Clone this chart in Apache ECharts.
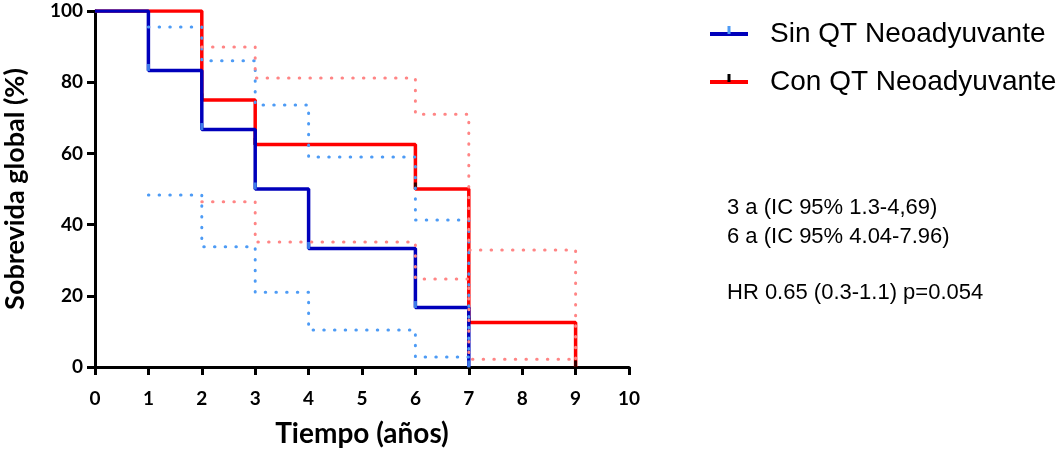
<!DOCTYPE html>
<html>
<head>
<meta charset="utf-8">
<script src="https://cdn.jsdelivr.net/npm/echarts@6/dist/echarts.min.js"></script>
<style>
html,body{margin:0;padding:0;background:#fff;}
#chart{width:1060px;height:453px;}
</style>
</head>
<body>
<div id="chart"></div>
<script>
// ---- data (years, % survival) ----
const seriesNames = ['Sin QT Neoadyuvante', 'Con QT Neoadyuvante'];
const xTicks = [0,1,2,3,4,5,6,7,8,9,10];
const yTicks = [0,20,40,60,80,100];

const sinQT = [[0,100],[1,83.3],[2,66.7],[3,50],[4,33.3],[6,16.7],[7,0]];
const sinQTUpper = [[1,95.5],[2,86],[3,73.6],[4,59],[6,41.3],[7,2.8]];
const sinQTLower = [[1,48.3],[2,33.8],[3,21],[4,10.4],[6,2.8],[7,2.8]];
const sinQTMarks = [[1,83.3],[2,66.7],[3,50],[4,33.3],[6,16.7],[7,0]];

const conQT = [[0,100],[2,75],[3,62.5],[6,50],[7,12.5],[9,0]];
const conQTUpper = [[2,89.9],[3,81.2],[6,71],[7,32.9],[9,2.2]];
const conQTLower = [[2,46.4],[3,35.1],[6,24.7],[7,2.2],[9,2.2]];
const conQTMarks = [[2,75],[3,62.5],[6,50],[7,12.5],[9,0]];

const annotations = ['3 a (IC 95% 1.3-4,69)', '6 a (IC 95% 4.04-7.96)', '', 'HR 0.65 (0.3-1.1) p=0.054'];

// ---- styles ----
const BLUE = '#0000bb', RED = '#ff0000', LBLUE = '#4d9bf5', LRED = '#ff8585';
const SANS = "'Liberation Sans', Arial, sans-serif";
const dotted = (c) => ({color: c, width: 3, type: [0.5, 10.2], cap: 'round'});
const tickFont = {fontFamily: 'Lato', fontWeight: 'bold', fontSize: 19, color: '#000'};

const chart = echarts.init(document.getElementById('chart'), null, {renderer: 'canvas'});
const option = {
  animation: false,
  backgroundColor: '#fff',
  grid: {left: 95, right: 431, top: 11, bottom: 86, containLabel: false, outerBoundsMode: 'none'},
  xAxis: {
    type: 'value', min: 0, max: 10, interval: 1,
    name: 'Tiempo (años)', nameLocation: 'middle', nameGap: 53,
    nameTextStyle: {fontFamily: 'Lato', fontWeight: 'bold', fontSize: 28, color: '#000'},
    axisLine: {show: true, onZero: false, lineStyle: {color: '#000', width: 3}},
    axisTick: {show: true, length: 8, lineStyle: {color: '#000', width: 3}},
    axisLabel: Object.assign({margin: 22, formatter: v => xTicks.includes(v) ? String(v) : ''}, tickFont),
    splitLine: {show: false}
  },
  yAxis: {
    type: 'value', min: 0, max: 100, interval: 20,
    name: 'Sobrevida global (%)', nameLocation: 'middle', nameGap: 66,
    nameTextStyle: {fontFamily: 'Lato', fontWeight: 'bold', fontSize: 27, color: '#000'},
    axisLine: {show: true, onZero: false, lineStyle: {color: '#000', width: 3}},
    axisTick: {show: true, length: 8, lineStyle: {color: '#000', width: 3}},
    axisLabel: Object.assign({margin: 12, formatter: v => yTicks.includes(v) ? String(v) : ''}, tickFont),
    splitLine: {show: false}
  },
  legend: {
    orient: 'vertical', left: 710, top: 20, itemGap: 20, padding: 0,
    itemWidth: 38, itemHeight: 4, icon: 'rect',
    data: seriesNames,
    textStyle: {fontFamily: SANS, fontSize: 28, color: '#000', padding: [0,0,0,17]}
  },
  graphic: [
    {type: 'rect', shape: {x: 727.5, y: 26, width: 3, height: 8}, style: {fill: LBLUE}, z: 100},
    {type: 'rect', shape: {x: 727.5, y: 74, width: 3, height: 8}, style: {fill: '#000'}, z: 100},
    {type: 'text', left: 727, top: 197, style: {text: annotations[0], fontFamily: SANS, fontSize: 22, fill: '#000'}},
    {type: 'text', left: 727, top: 226, style: {text: annotations[1], fontFamily: SANS, fontSize: 22, fill: '#000'}},
    {type: 'text', left: 727, top: 282, style: {text: annotations[3], fontFamily: SANS, fontSize: 22, fill: '#000'}}
  ],
  series: [
    {name: seriesNames[1], type: 'line', step: 'end', data: conQT, showSymbol: false, symbol: 'none',
      lineStyle: {color: RED, width: 3.5}, itemStyle: {color: RED}, z: 2},
    {name: 'conMarks', type: 'scatter', data: conQTMarks, symbol: 'rect', symbolSize: [3, 7], symbolOffset: [0, -3],
      itemStyle: {color: '#000'}, z: 2},
    {name: seriesNames[0], type: 'line', step: 'end', data: sinQT, showSymbol: false, symbol: 'none',
      lineStyle: {color: BLUE, width: 3.5}, itemStyle: {color: BLUE}, z: 3},
    {name: 'sinU', type: 'line', step: 'end', data: sinQTUpper, symbol: 'none', lineStyle: dotted(LBLUE), z: 4},
    {name: 'sinL', type: 'line', step: 'end', data: sinQTLower, symbol: 'none', lineStyle: dotted(LBLUE), z: 4},
    {name: 'conU', type: 'line', step: 'end', data: conQTUpper, symbol: 'none', lineStyle: dotted(LRED), z: 4},
    {name: 'conL', type: 'line', step: 'end', data: conQTLower, symbol: 'none', lineStyle: dotted(LRED), z: 4},
    {name: 'sinMarks', type: 'scatter', data: sinQTMarks, symbol: 'rect', symbolSize: [3, 7], symbolOffset: [0, -3],
      itemStyle: {color: LBLUE}, z: 5}
  ]
};
chart.setOption(option);
</script>
</body>
</html>
